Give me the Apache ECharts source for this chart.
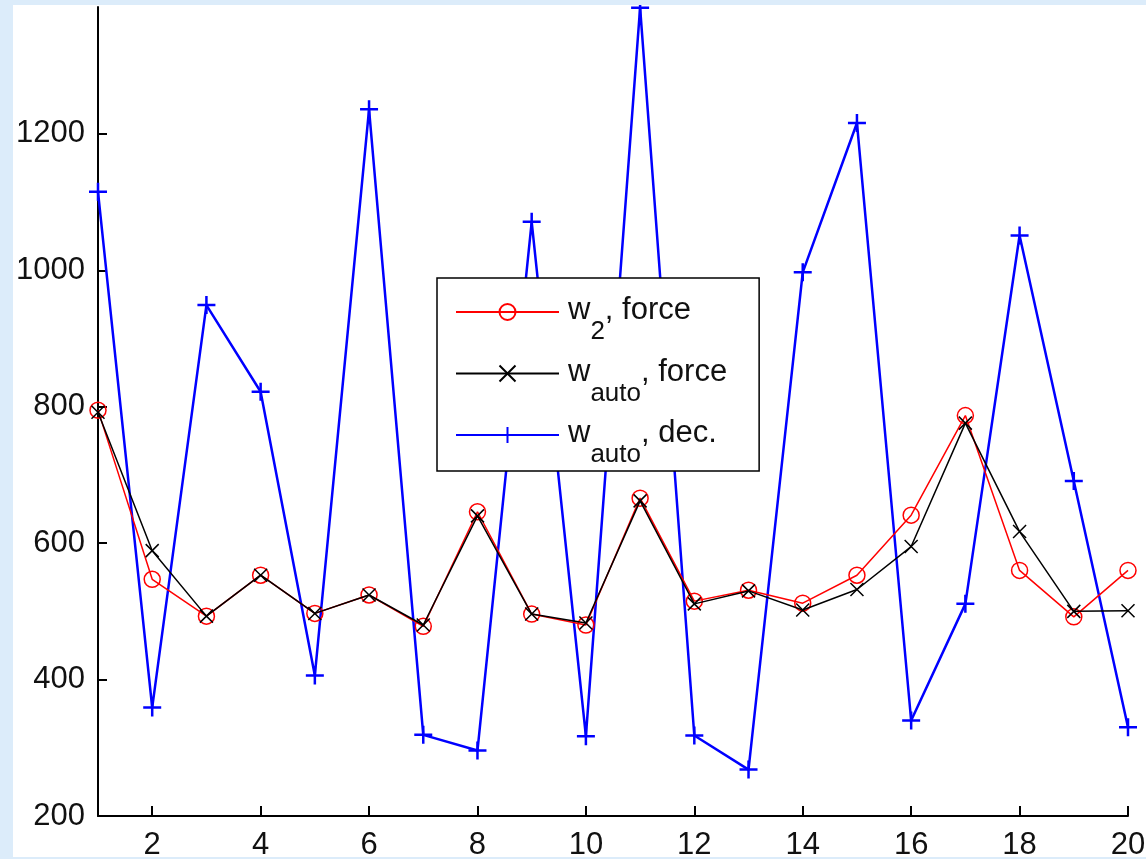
<!DOCTYPE html>
<html>
<head>
<meta charset="utf-8">
<script src="https://cdn.jsdelivr.net/npm/echarts@6/dist/echarts.min.js"></script>
<style>
  html, body { margin: 0; padding: 0; background: #dcecfa; }
  #frame { position: absolute; left: 13px; top: 5px; width: 1133px; height: 852px; background: #ffffff; }
  #chart { width: 1133px; height: 852px; }
</style>
</head>
<body>
<div id="frame"><div id="chart"></div></div>
<script>
// ---- data ----
const xs = [1, 2, 3, 4, 5, 6, 7, 8, 9, 10, 11, 12, 13, 14, 15, 16, 17, 18, 19, 20];
const w2Force    = [795, 547, 493, 553, 497, 524, 478, 646, 496, 480, 666, 515, 531, 512, 553, 641, 787, 560, 492, 560];
const wAutoForce = [792, 589, 493, 553, 497, 524, 480, 640, 496, 483, 662, 511, 530, 502, 532, 595, 776, 617, 500, 501];
const wAutoDec   = [1115, 359, 949, 822, 406, 1236, 319, 296, 1071, 317, 1385, 318, 268, 997, 1216, 340, 511, 1051, 691, 330];
const seriesNames = ['w2, force', 'wauto, force', 'wauto, dec.'];
const legendRich = ['{sp|}{w|w}{s|2}{w|, force}', '{sp|}{w|w}{s|auto}{w|, force}', '{sp|}{w|w}{s|auto}{w|, dec.}'];
const xTicks = [2, 4, 6, 8, 10, 12, 14, 16, 18, 20];
const yTicks = [200, 400, 600, 800, 1000, 1200];
const yMin = 200, yMax = 1386, xMin = 1, xMax = 20;

const FONT = '"Liberation Sans", Arial, sans-serif';
const pairs = arr => xs.map((x, i) => [x, arr[i]]);

const chart = echarts.init(document.getElementById('chart'), null, { renderer: 'canvas' });
chart.setOption({
  animation: false,
  backgroundColor: '#ffffff',
  grid: { left: 85, top: 2, right: 18, bottom: 41, containLabel: false, outerBoundsMode: 'none' },
  xAxis: {
    type: 'value', min: xMin, max: xMax,
    axisLine: { show: true, onZero: false, lineStyle: { color: '#000', width: 2 } },
    axisTick: { show: true, inside: true, length: 10, lineStyle: { color: '#000', width: 2 }, customValues: xTicks },
    axisLabel: { show: true, customValues: xTicks, margin: 14, color: '#111', fontSize: 31, fontFamily: FONT,
                 formatter: v => String(v) },
    splitLine: { show: false }
  },
  yAxis: {
    type: 'value', min: yMin, max: yMax,
    axisLine: { show: true, onZero: false, lineStyle: { color: '#000', width: 2 } },
    axisTick: { show: true, inside: true, length: 9, lineStyle: { color: '#000', width: 2 }, customValues: yTicks },
    axisLabel: { show: true, customValues: yTicks, margin: 13, color: '#111', fontSize: 31, fontFamily: FONT,
                 formatter: v => String(v) },
    splitLine: { show: false }
  },
  legend: {
    orient: 'vertical', left: 424, top: 273,
    padding: [17, 32, 3, 18], itemGap: 11.5,
    itemWidth: 103, itemHeight: 20,
    backgroundColor: '#fff', borderColor: '#000', borderWidth: 1.5, borderRadius: 0,
    data: seriesNames,
    formatter: name => legendRich[seriesNames.indexOf(name)],
    textStyle: {
      color: '#111', fontFamily: FONT,
      rich: {
        sp: { width: 4 },
        w: { fontSize: 31, fontFamily: FONT, color: '#111', lineHeight: 34, verticalAlign: 'top' },
        s: { fontSize: 26, fontFamily: FONT, color: '#111', lineHeight: 22, padding: [24, 0, 0, 0], verticalAlign: 'top' }
      }
    }
  },
  series: [
    {
      name: seriesNames[0], type: 'line', data: pairs(w2Force), clip: false,
      symbol: 'circle', symbolSize: 16,
      lineStyle: { color: '#ff0000', width: 1.5 },
      itemStyle: { color: 'rgba(255,255,255,0)', borderColor: '#ff0000', borderWidth: 1.5 },
      z: 2
    },
    {
      name: seriesNames[1], type: 'line', data: pairs(wAutoForce), clip: false,
      symbol: 'path://M-1,-1L1,1M-1,1L1,-1', symbolSize: 13,
      lineStyle: { color: '#000000', width: 1.5 },
      itemStyle: { color: 'rgba(0,0,0,0)', borderColor: '#000000', borderWidth: 1.5 },
      z: 3
    },
    {
      name: seriesNames[2], type: 'line', data: pairs(wAutoDec), clip: false,
      symbol: 'path://M-1,0L1,0M0,-1L0,1', symbolSize: 18,
      lineStyle: { color: '#0000ff', width: 2.5 },
      itemStyle: { color: 'rgba(0,0,255,0)', borderColor: '#0000ff', borderWidth: 2.5 },
      z: 1
    }
  ]
});
</script>
</body>
</html>
